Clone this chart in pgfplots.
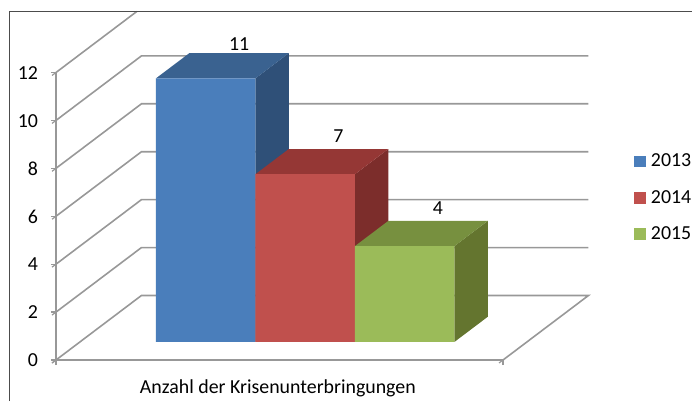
\documentclass[border=0pt]{standalone}
\usepackage{fontspec}
\setmainfont{Carlito}
\usepackage{pgfplots}
\pgfplotsset{compat=1.18}

\definecolor{gridc}{HTML}{989898}
\definecolor{blueF}{HTML}{4A7EBB}
\definecolor{blueT}{HTML}{3A6290}
\definecolor{blueS}{HTML}{2F5078}
\definecolor{redF}{HTML}{C0504D}
\definecolor{redT}{HTML}{953735}
\definecolor{redS}{HTML}{7C2D2B}
\definecolor{greenF}{HTML}{9BBB59}
\definecolor{greenT}{HTML}{77903F}
\definecolor{greenS}{HTML}{64752F}

\newcommand{\chartfont}{\fontsize{14.9}{17}\selectfont}

\begin{document}
\begin{tikzpicture}
\useasboundingbox (-42pt,-30.75pt) rectangle (477pt,270pt);
\begin{axis}[
  at={(0,0)}, anchor=origin,
  x={(0.75pt,0pt)}, y={(64.1pt,48.4pt)}, z={(0pt,17.97pt)},
  xmin=0, xmax=447, ymin=0, ymax=1, zmin=0, zmax=12,
  clip=false,
  axis lines*=left,
  hide y axis,
  axis line style={gridc, line width=1.1pt},
  tick style={gridc, line width=0.9pt},
  tick align=outside,
  major tick length=3.75pt,
  xtick={0,447}, xticklabels={,},
  extra x ticks={222.5},
  extra x tick labels={Anzahl der Krisenunterbringungen},
  extra x tick style={major tick length=0pt, tick style={draw=none},
    xticklabel style={xshift=4.5pt, yshift=-11pt}},
  ztick={0,2,4,6,8,10,12},
  zticklabel style={anchor=east, xshift=-7pt, yshift=2pt},
  /pgf/number format/assume math mode=true,
  tick label style={font=\chartfont, black},
  legend style={draw=none, fill=none, font=\chartfont, inner sep=0pt,
    at={(axis cs:578,0,8.72)}, anchor=north west, row sep=12.1pt},
  legend cell align=left,
  legend image code/.code={\path[draw=none,fill=none] (0pt,0pt) rectangle (10.5pt,0pt);\fill[draw=none,#1] (0pt,-4.4pt) rectangle (9pt,4.4pt);},
]
% side wall and back wall grid
\addplot3[gridc, line width=1.2pt, forget plot] coordinates {(0,0,0)(0,1,0)(447,1,0)(447,0,0)};
\addplot3[gridc, line width=1.2pt, forget plot] coordinates {(0,0,2)(0,1,2)(447,1,2)};
\addplot3[gridc, line width=1.2pt, forget plot] coordinates {(0,0,4)(0,1,4)(447,1,4)};
\addplot3[gridc, line width=1.2pt, forget plot] coordinates {(0,0,6)(0,1,6)(447,1,6)};
\addplot3[gridc, line width=1.2pt, forget plot] coordinates {(0,0,8)(0,1,8)(447,1,8)};
\addplot3[gridc, line width=1.2pt, forget plot] coordinates {(0,0,10)(0,1,10)(447,1,10)};
\addplot3[gridc, line width=1.2pt, forget plot] coordinates {(0,0,12)(0,0.945,12)};

% 2013
\addplot3[draw=none, fill=blueS, forget plot] coordinates {(175.5,0.28,0)(175.5,0.67,0)(175.5,0.67,11)(175.5,0.28,11)(175.5,0.28,0)};
\addplot3[draw=none, fill=blueT, forget plot] coordinates {(76,0.28,11)(175.5,0.28,11)(175.5,0.67,11)(76,0.67,11)(76,0.28,11)};
\addplot3[draw=none, fill=blueF, forget plot] coordinates {(76,0.28,0)(175.5,0.28,0)(175.5,0.28,11)(76,0.28,11)(76,0.28,0)};
% 2014
\addplot3[draw=none, fill=redS, forget plot] coordinates {(275,0.28,0)(275,0.67,0)(275,0.67,7)(275,0.28,7)(275,0.28,0)};
\addplot3[draw=none, fill=redT, forget plot] coordinates {(175.5,0.28,7)(275,0.28,7)(275,0.67,7)(175.5,0.67,7)(175.5,0.28,7)};
\addplot3[draw=none, fill=redF, forget plot] coordinates {(175.5,0.28,0)(275,0.28,0)(275,0.28,7)(175.5,0.28,7)(175.5,0.28,0)};
% 2015
\addplot3[draw=none, fill=greenS, forget plot] coordinates {(374.5,0.28,0)(374.5,0.67,0)(374.5,0.67,4)(374.5,0.28,4)(374.5,0.28,0)};
\addplot3[draw=none, fill=greenT, forget plot] coordinates {(275,0.28,4)(374.5,0.28,4)(374.5,0.67,4)(275,0.67,4)(275,0.28,4)};
\addplot3[draw=none, fill=greenF, forget plot] coordinates {(275,0.28,0)(374.5,0.28,0)(374.5,0.28,4)(275,0.28,4)(275,0.28,0)};

% value labels
\addplot3[draw=none, mark=none, forget plot, point meta=z,
  nodes near coords, nodes near coords align={anchor=south},
  every node near coord/.append style={font=\chartfont, black, inner sep=0pt, yshift=4.5pt, /pgf/number format/assume math mode=true}]
  coordinates {(131,0.61,11)(225.25,0.67,7)(324.75,0.67,4)};

\addlegendimage{fill=blueF}
\addlegendimage{fill=redF}
\addlegendimage{fill=greenF}
\legend{2013,2014,2015}
\end{axis}
% outer frame
\draw[black!70, line width=0.7pt] (-35pt,-30.75pt) -- (-35pt,261.5pt) -- (477pt,261.5pt);
\end{tikzpicture}
\end{document}
